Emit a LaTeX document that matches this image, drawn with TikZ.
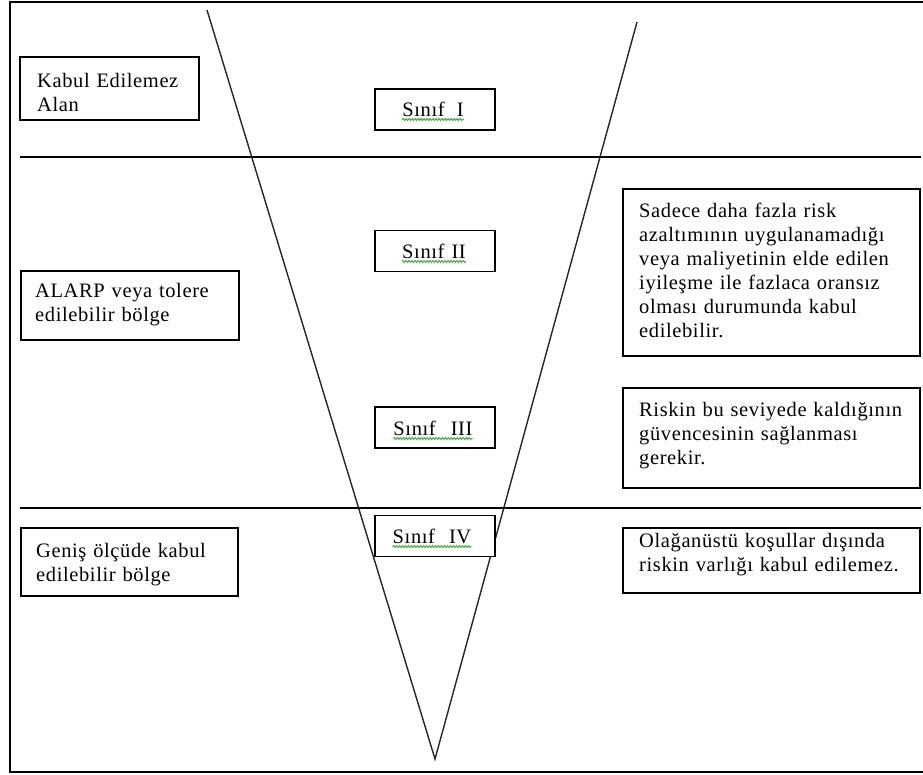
\documentclass[tikz,border=0pt]{standalone}
\usepackage{fontspec}
\setmainfont{Liberation Serif}
\newfontfamily\labelfont[LetterSpace=3]{Liberation Serif}
\usetikzlibrary{decorations.pathmorphing}
\definecolor{squiggle}{RGB}{70,175,70}

\begin{document}
\begin{tikzpicture}[x=1pt,y=-1pt,
  every node/.style={font=\labelfont\fontsize{20.5}{24}\selectfont},
  frameline/.style={line width=2.2pt},
  vline/.style={line width=1.4pt, black!85},
  hline/.style={line width=1.7pt},
  panel/.style={draw, line width=1.6pt, fill=white, inner sep=0pt},
  classbox/.style={panel, minimum width=120pt, minimum height=41pt},
  note/.style={anchor=base west, align=left, inner sep=0pt, text width=#1},
  classlabel/.style={anchor=base, inner sep=0pt},
  spell/.style={squiggle, line width=1pt,
    decorate, decoration={snake, segment length=3pt, amplitude=1pt}}
]
\useasboundingbox (0,0) rectangle (923,774);

% outer frame
\coordinate (fTR) at (923,2);
\coordinate (fTL) at (10,2);
\coordinate (fBL) at (10,772);
\coordinate (fBR) at (923,772);
\draw[frameline] (fTR) -- (fTL) -- (fBL) -- (fBR);

% the V shape
\coordinate (vL) at (207,10);
\coordinate (vB) at (435,759);
\coordinate (vR) at (637,22);
\draw[vline] (vL) -- (vB) -- (vR);

% region boundaries
\coordinate (h1a) at (20,157);
\coordinate (h1b) at (921,157);
\coordinate (h2a) at (20,508);
\coordinate (h2b) at (921,508);
\draw[hline] (h1a) -- (h1b);
\draw[hline] (h2a) -- (h2b);

% left-hand region boxes
\node[panel, minimum width=179pt, minimum height=63pt] (kabul) at (109.5,88.5) {};
\node[note=170pt] (kabulT) at (37,87) {Kabul Edilemez\\Alan};

\node[panel, minimum width=218pt, minimum height=69pt] (alarp) at (130,305.5) {};
\node[note=210pt] (alarpT) at (35,297) {ALARP veya tolere\\edilebilir bölge};

\node[panel, minimum width=217pt, minimum height=68pt] (genis) at (129.5,562) {};
\node[note=210pt] (genisT) at (36,557) {Geniş ölçüde kabul\\edilebilir bölge};

% right-hand explanation boxes
\node[panel, minimum width=297pt, minimum height=167pt] (sadece) at (771.5,272.5) {};
\node[note=280pt] (sadeceT) at (639,217) {Sadece daha fazla risk\\azaltımının uygulanamadığı\\veya maliyetinin elde edilen\\iyileşme ile fazlaca oransız\\olması durumunda kabul\\edilebilir.};

\node[panel, minimum width=297pt, minimum height=100pt] (riskin) at (771.5,438) {};
\node[note=280pt] (riskinT) at (639,416) {Riskin bu seviyede kaldığının\\güvencesinin sağlanması\\gerekir.};

\node[panel, minimum width=297pt, minimum height=65pt] (olag) at (771.5,560.5) {};
\node[note=290pt] (olagT) at (639,547) {Olağanüstü koşullar dışında\\riskin varlığı kabul edilemez.};

% class boxes on the V
\node[classbox] (c1) at (435,109.5) {};
\node[classlabel] (c1T) at (433,116) {Sınıf\hspace{12pt}I};
\node[classbox] (c2) at (435,251) {};
\node[classlabel] (c2T) at (434,258) {Sınıf\hspace{7pt}II};
\node[classbox] (c3) at (435,427.5) {};
\node[classlabel] (c3T) at (433,435) {Sınıf\hspace{15pt}III};
\node[classbox] (c4) at (435,536) {};
\node[classlabel] (c4T) at (432,543) {Sınıf\hspace{14pt}IV};

% spell-check underlines
\foreach \t in {c1T,c2T,c3T,c4T}
  \draw[spell] ([yshift=-3.5pt]\t.base west) -- ([yshift=-3.5pt]\t.base east);
\end{tikzpicture}
\end{document}
